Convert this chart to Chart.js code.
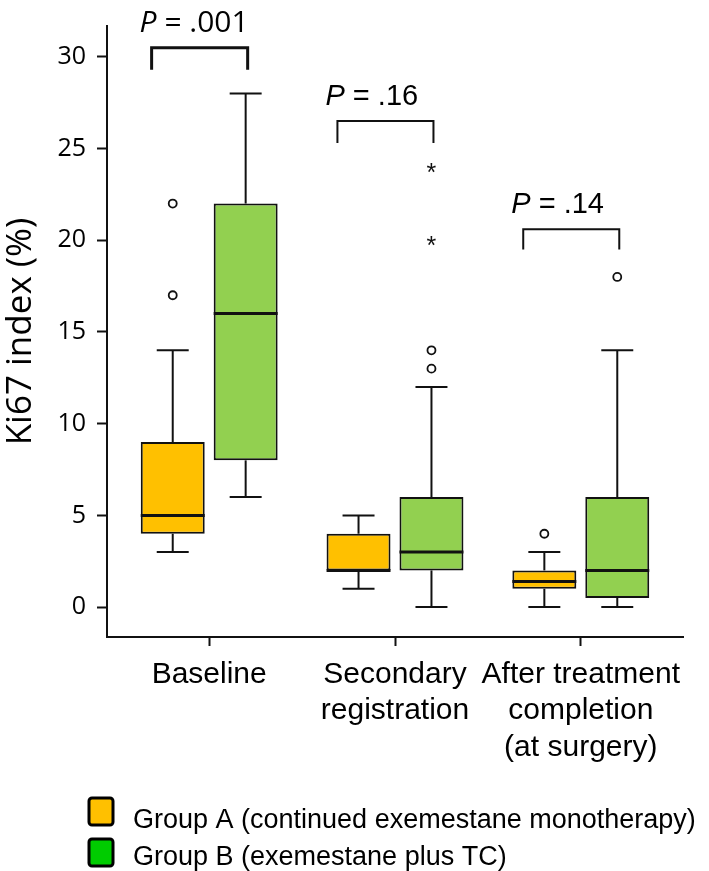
<!DOCTYPE html>
<html>
<head>
<meta charset="utf-8">
<script src="https://cdn.jsdelivr.net/npm/chart.js@4/dist/chart.umd.min.js"></script>
<style>
  html, body { margin: 0; padding: 0; background: #fff; }
  #wrap { width: 709px; height: 871px; position: relative; }
</style>
</head>
<body>
<div id="wrap"><canvas id="boxChart"></canvas></div>
<script>
// categories (multi-line tick labels)
const categories = [['Baseline'], ['Secondary', 'registration'], ['After treatment', 'completion', '(at surgery)']];

// Group A box stats
const groupAMin = [3, 1, 0];
const groupAQ1 = [4, 2, 1];
const groupAMedian = [5, 2, 1.4];
const groupAQ3 = [9, 4, 2];
const groupAMax = [14, 5, 3];
const groupAOutliers = [[22, 17], [], [4]];
const groupAExtremes = [[], [], []];

// Group B box stats
const groupBMin = [6, 0, 0];
const groupBQ1 = [8, 2, 0.5];
const groupBMedian = [16, 3, 2];
const groupBQ3 = [22, 6, 6];
const groupBMax = [28, 12, 14];
const groupBOutliers = [[], [14, 13], [18]];
const groupBExtremes = [[], [24, 20], []];

// significance brackets
const pValues = ['.001', '.16', '.14'];
const bracketTop = [30.5, 26.5, 20.6];
const bracketBottom = [29.3, 25.3, 19.5];

const legendLabels = ['Group A (continued exemestane monotherapy)', 'Group B (exemestane plus TC)'];

const stats = [
    { min: groupAMin, med: groupAMedian, max: groupAMax, out: groupAOutliers, ext: groupAExtremes },
    { min: groupBMin, med: groupBMedian, max: groupBMax, out: groupBOutliers, ext: groupBExtremes }
];

const ink = '#111';
const pFonts = ['30px "Open Sans"', '29px "Liberation Sans"', '29px "Liberation Sans"'];
const bracketWidths = [3, 2, 2];
const legendColors = ['#FFC000', '#00CC00'];

function line(ctx, x1, y1, x2, y2) {
    ctx.beginPath();
    ctx.moveTo(x1, y1);
    ctx.lineTo(x2, y2);
    ctx.stroke();
}

const boxExtras = {
    id: 'boxExtras',
    afterDatasetsDraw(chart) {
        const ctx = chart.ctx;
        const y = chart.scales.y;
        ctx.save();
        ctx.strokeStyle = ink;
        ctx.fillStyle = ink;
        stats.forEach((s, d) => {
            const meta = chart.getDatasetMeta(d);
            const q = chart.data.datasets[d].data;
            meta.data.forEach((bar, i) => {
                const xc = bar.x, w = bar.width;
                const cap = w / 4;
                ctx.lineWidth = 2;
                // upper whisker
                line(ctx, xc, y.getPixelForValue(q[i].y[1]), xc, y.getPixelForValue(s.max[i]));
                line(ctx, xc - cap, y.getPixelForValue(s.max[i]), xc + cap, y.getPixelForValue(s.max[i]));
                // lower whisker
                line(ctx, xc, y.getPixelForValue(q[i].y[0]), xc, y.getPixelForValue(s.min[i]));
                line(ctx, xc - cap, y.getPixelForValue(s.min[i]), xc + cap, y.getPixelForValue(s.min[i]));
                // median
                ctx.lineWidth = 3;
                line(ctx, xc - w / 2, y.getPixelForValue(s.med[i]), xc + w / 2, y.getPixelForValue(s.med[i]));
                // outliers
                ctx.lineWidth = 1.8;
                s.out[i].forEach(v => {
                    ctx.beginPath();
                    ctx.arc(xc, y.getPixelForValue(v), 4, 0, Math.PI * 2);
                    ctx.fillStyle = '#fff';
                    ctx.fill();
                    ctx.stroke();
                });
                ctx.fillStyle = ink;
                ctx.font = '25px "Liberation Sans"';
                ctx.textAlign = 'center';
                ctx.textBaseline = 'alphabetic';
                s.ext[i].forEach(v => {
                    ctx.fillText('*', xc, y.getPixelForValue(v) + 14);
                });
            });
        });

        // brackets + P values
        const metaA = chart.getDatasetMeta(0), metaB = chart.getDatasetMeta(1);
        pValues.forEach((p, i) => {
            const a = metaA.data[i], b = metaB.data[i];
            const left = a.x - a.width * 0.33;
            const right = b.x + 2;
            const top = y.getPixelForValue(bracketTop[i]);
            const bottom = y.getPixelForValue(bracketBottom[i]);
            ctx.lineWidth = bracketWidths[i];
            ctx.lineJoin = 'miter';
            ctx.beginPath();
            ctx.moveTo(left, bottom);
            ctx.lineTo(left, top);
            ctx.lineTo(right, top);
            ctx.lineTo(right, bottom);
            ctx.stroke();

            const font = pFonts[i];
            ctx.font = 'italic ' + font;
            const wP = ctx.measureText('P').width;
            ctx.font = font;
            const rest = ' = ' + p;
            const wR = ctx.measureText(rest).width;
            const x0 = left - 12;
            const by = top - 16;
            ctx.textAlign = 'left';
            ctx.textBaseline = 'alphabetic';
            ctx.fillStyle = '#000';
            ctx.font = 'italic ' + font;
            ctx.fillText('P', x0, by);
            ctx.font = font;
            ctx.fillText(rest, x0 + wP, by);
        });
        ctx.restore();
    },
    afterDraw(chart) {
        // legend below the axis
        const ctx = chart.ctx;
        ctx.save();
        legendLabels.forEach((lab, i) => {
            const top = 798 + i * 41;
            ctx.beginPath();
            ctx.roundRect(89, top, 24, 27, 3);
            ctx.fillStyle = legendColors[i];
            ctx.fill();
            ctx.lineWidth = 3;
            ctx.strokeStyle = '#000';
            ctx.stroke();
            ctx.fillStyle = '#000';
            ctx.font = '27px "Liberation Sans"';
            ctx.textAlign = 'left';
            ctx.textBaseline = 'alphabetic';
            ctx.fillText(lab, 133, 828 + i * 37);
        });
        ctx.restore();
    }
};

const ctx = document.getElementById('boxChart').getContext('2d');
new Chart(ctx, {
    type: 'bar',
    data: {
        datasets: [
            {
                label: legendLabels[0],
                data: categories.map((c, i) => ({ x: i, y: [groupAQ1[i], groupAQ3[i]] })),
                backgroundColor: '#FFC000',
                borderColor: ink,
                borderWidth: 2,
                borderSkipped: false,
                categoryPercentage: 0.785,
                barPercentage: 0.877
            },
            {
                label: legendLabels[1],
                data: categories.map((c, i) => ({ x: i, y: [groupBQ1[i], groupBQ3[i]] })),
                backgroundColor: '#92D050',
                borderColor: ink,
                borderWidth: 2,
                borderSkipped: false,
                categoryPercentage: 0.785,
                barPercentage: 0.877
            }
        ]
    },
    options: {
        responsive: true,
        maintainAspectRatio: false,
        animation: false,
        layout: {
            padding: { top: 23, right: 26, left: 0, bottom: 0 }
        },
        plugins: {
            legend: { display: false },
            tooltip: { enabled: false }
        },
        scales: {
            x: {
                type: 'linear',
                min: -0.55,
                max: 2.55,
                offset: false,
                afterFit(scale) { scale.height = 234; },
                grid: { offset: false, drawOnChartArea: false, drawTicks: true, tickLength: 9, tickWidth: 2, tickColor: ink },
                border: { display: true, color: ink, width: 2 },
                ticks: {
                    stepSize: 1,
                    includeBounds: false,
                    autoSkip: false,
                    maxRotation: 0,
                    padding: 10,
                    color: '#000',
                    font: { family: '"Liberation Sans"', size: 30, lineHeight: 1.22 },
                    callback: v => categories[v] || ''
                }
            },
            y: {
                min: -1.63,
                max: 31.68,
                afterFit(scale) { scale.width = 107; },
                grid: { drawOnChartArea: false, drawTicks: true, tickLength: 10, tickWidth: 2, tickColor: ink },
                border: { display: true, color: ink, width: 2 },
                ticks: {
                    stepSize: 5,
                    includeBounds: false,
                    padding: 11,
                    color: '#000',
                    font: { family: '"Open Sans"', size: 25 }
                },
                title: {
                    display: true,
                    text: 'Ki67 index (%)',
                    color: '#000',
                    padding: { top: 0, bottom: 0 },
                    font: { family: '"Open Sans"', size: 35 }
                }
            }
        }
    },
    plugins: [boxExtras]
});
</script>
</body>
</html>
